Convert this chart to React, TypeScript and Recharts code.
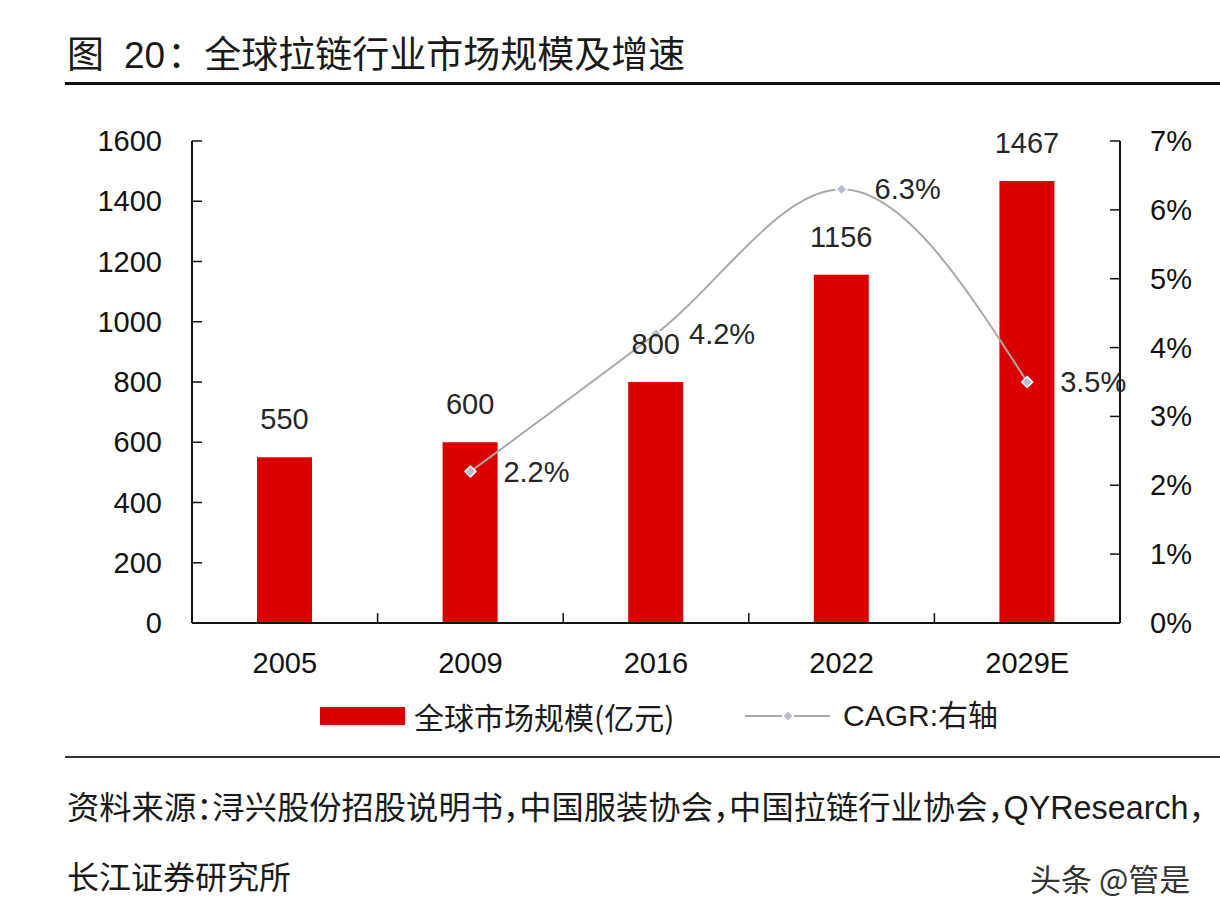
import React from "react";
import {
  ComposedChart,
  Bar,
  Line,
  XAxis,
  YAxis,
  LabelList,
} from "recharts";

// values
const years = ["2005", "2009", "2016", "2022", "2029E"];
const marketSize = [550, 600, 800, 1156, 1467]; // 亿元
const cagr: (number | null)[] = [null, 2.2, 4.2, 6.3, 3.5]; // %
const leftTicks = [0, 200, 400, 600, 800, 1000, 1200, 1400, 1600];
const rightTicks = [0, 1, 2, 3, 4, 5, 6, 7];

const data = years.map((year, i) => ({
  year,
  size: marketSize[i],
  cagr: cagr[i],
}));

const FONT = '"Liberation Sans", "Noto Sans CJK SC", sans-serif';
const CJK = '"Noto Sans CJK SC", "Liberation Sans", sans-serif';
const RED = "#DA0000";
const GREY = "#A9A9A9";

// plot area
const PLOT_LEFT = 192;
const PLOT_RIGHT = 1120;
const BAND = (PLOT_RIGHT - PLOT_LEFT) / years.length;

const LeftTick = (props: any) => {
  const { x, y, payload } = props;
  return (
    <g>
      <line x1={x} x2={x + 10} y1={y} y2={y} stroke="#111" strokeWidth={1.5} />
      <text x={x - 30} y={y} dy={10} textAnchor="end" fontSize={29} fill="#111" fontFamily={FONT}>
        {payload.value}
      </text>
    </g>
  );
};

const RightTick = (props: any) => {
  const { x, y, payload } = props;
  return (
    <g>
      <line x1={x - 10} x2={x} y1={y} y2={y} stroke="#111" strokeWidth={1.5} />
      <text x={x + 30} y={y} dy={10} textAnchor="start" fontSize={29} fill="#111" fontFamily={FONT}>
        {`${payload.value}%`}
      </text>
    </g>
  );
};

const BottomTick = (props: any) => {
  const { x, y, payload, index } = props;
  return (
    <g>
      {index < years.length - 1 && (
        <line
          x1={x + BAND / 2}
          x2={x + BAND / 2}
          y1={y}
          y2={y - 10}
          stroke="#111"
          strokeWidth={1.5}
        />
      )}
      <text x={x} y={y} dy={50} textAnchor="middle" fontSize={29} fill="#111" fontFamily={FONT}>
        {payload.value}
      </text>
    </g>
  );
};

const Diamond = (props: any) => {
  const { cx, cy, value } = props;
  if (value == null || cx == null || cy == null) return null;
  const r = 5.5;
  return (
    <path
      d={`M${cx},${cy - r}L${cx + r},${cy}L${cx},${cy + r}L${cx - r},${cy}Z`}
      fill="#B7BECC"
      stroke="#fff"
      strokeWidth={1.5}
    />
  );
};

export default function App() {
  return (
    <div
      style={{
        position: "absolute",
        left: 0,
        top: 0,
        width: 1220,
        height: 920,
        background: "#fff",
        overflow: "hidden",
        fontFamily: FONT,
        color: "#1a1a1a",
      }}
    >
      {/* title */}
      <div
        style={{
          position: "absolute",
          left: 67,
          top: 32,
          fontSize: 37,
          lineHeight: "40px",
          fontFamily: CJK,
          whiteSpace: "nowrap",
          color: "#1a1a1a",
        }}
      >
        图<span style={{ fontFamily: FONT, marginLeft: 20 }}>20</span>
        <span style={{ marginLeft: 2 }}>：</span>全球拉链行业市场规模及增速
      </div>
      <div style={{ position: "absolute", left: 65, top: 82, width: 1155, height: 3, background: "#111" }} />

      <div style={{ position: "absolute", left: 0, top: 0 }}>
        <ComposedChart
          width={1220}
          height={700}
          data={data}
          margin={{ top: 141, right: 0, bottom: 17, left: 0 }}
        >
          <XAxis
            dataKey="year"
            height={60}
            axisLine={{ stroke: "#111", strokeWidth: 2 }}
            tickLine={false}
            tickSize={0}
            tickMargin={0}
            tick={<BottomTick />}
            interval={0}
          />
          <YAxis
            yAxisId="left"
            orientation="left"
            width={PLOT_LEFT}
            domain={[0, 1600]}
            ticks={leftTicks}
            axisLine={{ stroke: "#111", strokeWidth: 2 }}
            tickLine={false}
            tickSize={0}
            tickMargin={0}
            tick={<LeftTick />}
            interval={0}
          />
          <YAxis
            yAxisId="right"
            orientation="right"
            width={1220 - PLOT_RIGHT}
            domain={[0, 7]}
            ticks={rightTicks}
            axisLine={{ stroke: "#111", strokeWidth: 2 }}
            tickLine={false}
            tickSize={0}
            tickMargin={0}
            tick={<RightTick />}
            interval={0}
          />
          <Bar
            yAxisId="left"
            dataKey="size"
            name="全球市场规模(亿元)"
            fill={RED}
            barSize={55}
            isAnimationActive={false}
          >
            <LabelList
              dataKey="size"
              position="top"
              offset={28}
              fill="#262626"
              fontSize={29}
              fontFamily={FONT}
            />
          </Bar>
          <Line
            yAxisId="right"
            dataKey="cagr"
            name="CAGR:右轴"
            type="monotone"
            stroke={GREY}
            strokeWidth={2}
            dot={<Diamond />}
            activeDot={false}
            isAnimationActive={false}
          >
            <LabelList
              dataKey="cagr"
              position="right"
              offset={33}
              fill="#262626"
              fontSize={29}
              fontFamily={FONT}
              formatter={(v: any) => (v == null ? "" : `${Number(v).toFixed(1)}%`)}
            />
          </Line>
        </ComposedChart>
      </div>

      {/* legend */}
      <div style={{ position: "absolute", left: 320, top: 707, width: 85, height: 18, background: RED }} />
      <div
        style={{
          position: "absolute",
          left: 414,
          top: 696,
          fontSize: 30,
          lineHeight: "40px",
          fontFamily: CJK,
          whiteSpace: "nowrap",
          color: "#1a1a1a",
        }}
      >
        全球市场规模(亿元)
      </div>
      <svg style={{ position: "absolute", left: 740, top: 706 }} width={95} height={20}>
        <line x1={5} x2={90} y1={10} y2={10} stroke={GREY} strokeWidth={2} />
        <path d="M48,4.5L53.5,10L48,15.5L42.5,10Z" fill="#B7BECC" stroke="#fff" strokeWidth={1.5} />
      </svg>
      <div
        style={{
          position: "absolute",
          left: 843,
          top: 696,
          fontSize: 30,
          lineHeight: "40px",
          whiteSpace: "nowrap",
          color: "#1a1a1a",
        }}
      >
        CAGR:右轴
      </div>

      <div style={{ position: "absolute", left: 65, top: 756, width: 1155, height: 2, background: "#333" }} />

      {/* source */}
      <div
        style={{
          position: "absolute",
          left: 67,
          top: 785,
          fontSize: 32.3,
          lineHeight: "40px",
          fontFamily: CJK,
          fontFeatureSettings: '"halt"',
          whiteSpace: "nowrap",
          color: "#1a1a1a",
        }}
      >
        资料来源：浔兴股份招股说明书，中国服装协会，中国拉链行业协会，
        <span style={{ fontFamily: FONT }}>QYResearch</span>，
      </div>
      <div
        style={{
          position: "absolute",
          left: 67,
          top: 855,
          fontSize: 32,
          lineHeight: "40px",
          fontFamily: CJK,
          whiteSpace: "nowrap",
          color: "#1a1a1a",
        }}
      >
        长江证券研究所
      </div>
      <div
        style={{
          position: "absolute",
          left: 1030,
          top: 860,
          fontSize: 31,
          lineHeight: "36px",
          fontFamily: CJK,
          whiteSpace: "nowrap",
          color: "#333",
        }}
      >
        头条 @管是
      </div>
    </div>
  );
}
